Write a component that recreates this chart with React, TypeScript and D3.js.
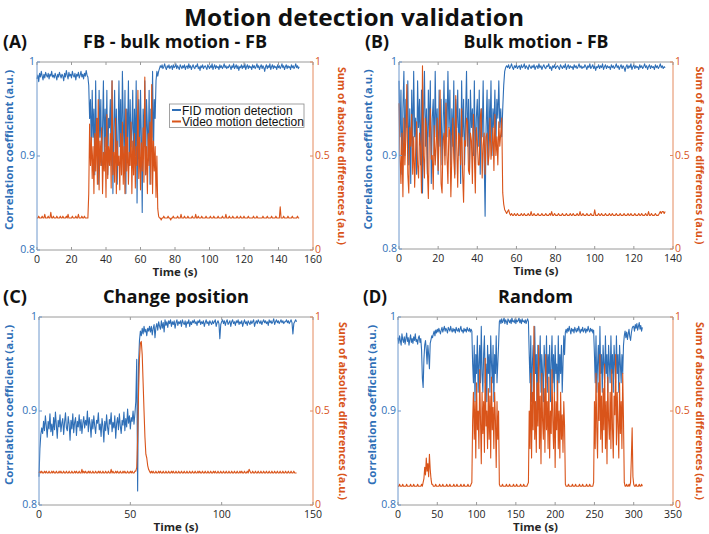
import React from 'react';
import * as d3 from 'd3';

const BLUE = '#2f6fb7';
const ORANGE = '#d9541a';

// ---------- Panel A: FB - bulk motion - FB (samples every 0.5 s, t = 0..152 s) ----------
const stepA = 0.5;
const fidA = [
  .982,.986,.979,.988,.984,.99,.985,.981,.987,.983,
  .989,.986,.984,.988,.982,.987,.985,.99,.984,.986,
  .983,.988,.985,.981,.987,.984,.989,.986,.983,.987,
  .985,.98,.988,.984,.991,.986,.982,.989,.985,.987,
  .983,.99,.986,.984,.988,.981,.987,.985,.989,.983,
  .986,.99,.984,.987,.982,.988,.985,.991,.986,.984,
  .975,.94,.96,.9,.97,.92,.95,.88,.98,.91,
  .94,.87,.97,.92,.96,.89,.93,.98,.9,.95,
  .91,.97,.88,.94,.93,.96,.89,.98,.86,.93,
  .97,.9,.95,.87,.92,.98,.91,.96,.88,.99,
  .94,.9,.97,.86,.95,.92,.98,.89,.96,.91,
  .93,.97,.88,.95,.9,.98,.85,.94,.96,.89,
  .97,.92,.84,.95,.91,.98,.88,.96,.93,.9,
  .97,.87,.95,.92,.99,.9,.96,.94,.98,.99,
  .985,.99,.993,.996,.994,.997,.993,.995,.998,.994,
  .992,.996,.994,.997,.993,.995,.996,.992,.997,.994,
  .995,.998,.993,.996,.994,.992,.997,.995,.993,.996,
  .994,.997,.992,.995,.996,.993,.998,.994,.996,.992,
  .995,.997,.994,.993,.996,.995,.998,.993,.995,.991,
  .996,.994,.997,.993,.995,.996,.994,.992,.997,.995,
  .993,.996,.994,.998,.992,.995,.997,.993,.996,.994,
  .995,.992,.997,.994,.996,.993,.995,.998,.994,.996,
  .993,.995,.994,.997,.995,.992,.996,.994,.998,.993,
  .995,.997,.993,.996,.991,.995,.994,.997,.993,.996,
  .994,.998,.992,.995,.997,.993,.996,.994,.995,.992,
  .997,.994,.996,.993,.995,.998,.994,.996,.992,.995,
  .997,.993,.996,.994,.99,.995,.997,.993,.996,.994,
  .998,.992,.995,.997,.993,.996,.994,.995,.992,.997,
  .994,.996,.993,.995,.998,.994,.996,.992,.995,.997,
  .993,.996,.994,.995,.992,.997,.994,.996,.993,.995,
  .998,.994,.996,.993,.995,
];
const vidA = [
  .17,.17,.18,.17,.17,.17,.18,.17,.17,.19,
  .17,.17,.17,.18,.17,.17,.2,.17,.17,.18,
  .17,.17,.17,.18,.17,.17,.17,.18,.17,.17,
  .18,.17,.17,.17,.18,.17,.19,.17,.17,.17,
  .17,.18,.17,.17,.17,.18,.17,.17,.19,.17,
  .17,.17,.18,.17,.17,.18,.17,.17,.17,.17,
  .3,.67,.45,.6,.38,.55,.3,.62,.42,.7,
  .35,.8,.32,.58,.45,.65,.3,.52,.42,.6,
  .28,.72,.38,.55,.45,.62,.33,.9,.4,.52,
  .36,.7,.3,.58,.45,.5,.32,.62,.4,.68,
  .35,.55,.3,.75,.42,.6,.35,.52,.45,.68,
  .3,.58,.4,.62,.33,.55,.45,.85,.38,.6,
  .32,.57,.42,.65,.36,.92,.4,.55,.3,.62,
  .45,.68,.35,.88,.3,.58,.42,.55,.28,.5,
  .22,.18,.17,.17,.16,.17,.17,.18,.17,.17,
  .17,.17,.18,.17,.17,.16,.17,.17,.18,.17,
  .17,.17,.17,.18,.17,.17,.17,.19,.17,.17,
  .17,.18,.17,.17,.17,.18,.17,.17,.17,.17,
  .18,.17,.17,.17,.19,.17,.17,.18,.17,.17,
  .17,.18,.17,.17,.17,.17,.18,.17,.17,.17,
  .17,.18,.17,.17,.17,.18,.17,.17,.17,.17,
  .18,.17,.17,.17,.17,.18,.17,.17,.17,.19,
  .17,.17,.17,.18,.17,.17,.17,.18,.17,.17,
  .17,.17,.18,.17,.17,.17,.18,.17,.17,.17,
  .18,.17,.17,.17,.17,.18,.17,.17,.17,.17,
  .17,.18,.17,.17,.17,.18,.17,.17,.17,.17,
  .17,.17,.18,.17,.17,.17,.17,.18,.17,.17,
  .17,.17,.18,.17,.17,.17,.17,.18,.17,.17,
  .17,.17,.23,.17,.17,.17,.18,.17,.17,.17,
  .17,.18,.17,.17,.17,.17,.18,.17,.17,.17,
  .17,.17,.18,.17,.17,
];

// ---------- Panel B: Bulk motion - FB (samples every 0.5 s, t = 0..136 s) ----------
const stepB = 0.5;
const fidB = [
  .98,.92,.97,.88,.95,.99,.9,.96,.93,.98,
  .89,.95,.87,.97,.91,.99,.92,.94,.88,.98,
  .93,.96,.89,.97,.86,.94,.99,.91,.95,.88,
  .97,.92,.98,.87,.94,.96,.9,.99,.92,.95,
  .88,.97,.91,.96,.89,.93,.98,.9,.96,.92,
  .99,.93,.97,.89,.95,.91,.98,.88,.96,.93,
  .97,.9,.95,.87,.98,.92,.96,.89,.94,.99,
  .91,.96,.88,.97,.93,.95,.9,.98,.89,.94,
  .96,.91,.97,.88,.95,.92,.98,.9,.835,.93,
  .97,.89,.96,.92,.98,.9,.95,.93,.97,.91,
  .96,.94,.98,.93,.95,.92,
  .95,.975,.99,.994,.996,.994,.997,.993,.995,.998,
  .994,.992,.996,.994,.997,.993,.995,.996,.992,.997,
  .994,.995,.998,.993,.996,.994,.992,.997,.995,.993,
  .996,.994,.997,.992,.995,.996,.993,.998,.994,.996,
  .992,.995,.997,.994,.993,.996,.995,.998,.993,.995,
  .991,.996,.994,.997,.993,.995,.996,.994,.992,.997,
  .995,.993,.996,.994,.998,.992,.995,.997,.993,.996,
  .994,.995,.992,.997,.994,.996,.993,.995,.998,.994,
  .996,.993,.995,.994,.997,.995,.992,.996,.994,.998,
  .993,.995,.997,.993,.996,.991,.995,.994,.997,.993,
  .996,.994,.998,.992,.995,.997,.993,.996,.994,.995,
  .992,.997,.994,.996,.993,.995,.998,.994,.996,.992,
  .995,.997,.993,.996,.994,.99,.995,.997,.993,.996,
  .994,.998,.992,.995,.997,.993,.996,.994,.995,.992,
  .997,.994,.996,.993,.995,.998,.994,.996,.992,.995,
  .997,.993,.996,.994,.995,.992,.997,.994,.996,.993,
  .995,.998,.994,.996,.993,.995,.994,
];
const vidB = [
  .78,.5,.35,.62,.28,.7,.45,.6,.88,.4,
  .3,.65,.55,.72,.4,.6,.33,.52,.68,.45,
  .38,.62,.55,.3,.98,.5,.38,.7,.65,.42,
  .27,.6,.75,.48,.5,.32,.66,.45,.55,.7,
  .42,.6,.85,.35,.3,.58,.62,.45,.78,.5,
  .35,.65,.62,.28,.5,.7,.48,.38,.82,.55,
  .33,.62,.6,.45,.75,.4,.25,.58,.55,.7,
  .68,.42,.4,.62,.58,.35,.72,.5,.3,.65,
  .58,.45,.45,.7,.75,.38,.55,.62,.4,.6,
  .62,.45,.5,.7,.48,.55,.65,.42,.72,.5,
  .6,.45,.68,.55,.62,.7,
  .3,.24,.21,.2,.19,.2,.21,.19,.18,.19,
  .18,.18,.19,.18,.18,.19,.18,.18,.18,.19,
  .18,.18,.19,.18,.18,.18,.19,.18,.18,.2,
  .18,.18,.19,.18,.18,.18,.19,.18,.18,.18,
  .19,.18,.18,.18,.19,.18,.18,.18,.19,.18,
  .2,.18,.18,.19,.18,.18,.18,.19,.18,.18,
  .18,.19,.18,.18,.18,.19,.18,.18,.18,.19,
  .18,.18,.19,.18,.18,.18,.19,.18,.18,.2,
  .18,.18,.19,.18,.18,.18,.19,.18,.18,.18,
  .19,.18,.18,.18,.21,.18,.18,.18,.19,.18,
  .18,.19,.18,.18,.18,.19,.18,.18,.18,.19,
  .18,.18,.19,.18,.18,.18,.19,.18,.18,.18,
  .19,.18,.18,.18,.19,.18,.18,.18,.19,.18,
  .18,.19,.18,.18,.18,.19,.18,.18,.18,.19,
  .18,.18,.19,.18,.18,.18,.19,.18,.18,.2,
  .18,.18,.19,.18,.18,.18,.19,.18,.18,.18,
  .19,.2,.19,.2,.2,.19,.2,
];

// ---------- Panel C: Change position (samples every 0.5 s, t = 0..141 s) ----------
const stepC = 0.5;
const fidC = [
  .83,.86,.875,.882,.876,.889,.879,.895,.884,.872,
  .889,.881,.897,.878,.886,.874,.893,.88,.899,.885,
  .871,.89,.883,.896,.878,.887,.892,.875,.888,.898,
  .882,.879,.894,.886,.869,.89,.881,.897,.877,.888,
  .893,.874,.889,.883,.896,.879,.891,.876,.887,.894,
  .882,.89,.885,.9,.878,.893,.886,.872,.891,.881,
  .895,.884,.876,.89,.887,.898,.88,.886,.873,.892,
  .884,.867,.889,.879,.896,.883,.875,.891,.886,.898,
  .878,.888,.882,.895,.871,.887,.893,.88,.897,.884,
  .876,.89,.885,.899,.879,.892,.883,.902,.887,.895,
  .881,.893,.889,.9,.886,.897,
  .91,.955,.815,.95,.975,.985,.98,.988,.982,.99,.984,.987,.98,.988,.985,.99,
  .984,.99,.981,.988,.992,.978,.989,.993,.986,.995,
  .99,.987,.996,.988,.994,.984,.997,.991,.995,.989,
  .996,.993,.997,.99,.995,.992,.996,.988,.994,.997,
  .991,.995,.993,.996,.99,.997,.994,.992,.996,.989,
  .995,.993,.997,.99,.995,.992,.996,.994,.997,.993,
  .995,.991,.996,.994,.997,.992,.995,.993,.996,.99,
  .994,.997,.993,.995,.991,.996,.994,.992,.996,.993,
  .995,.997,.99,.994,.996,.993,.977,.992,.995,.997,
  .993,.996,.991,.995,.997,.992,.994,.996,.99,.995,
  .997,.993,.995,.991,.996,.994,.997,.992,.995,.993,
  .996,.99,.994,.997,.993,.995,.991,.996,.994,.992,
  .996,.993,.995,.997,.99,.994,.996,.993,.997,.995,
  .993,.996,.992,.995,.997,.994,.996,.993,.995,.991,
  .997,.994,.996,.993,.995,.998,.992,.995,.997,.994,
  .996,.993,.995,.997,.994,.996,.993,.995,.995,.997,
  .994,.996,.993,.995,.997,.994,.982,.993,.995,.997,
  .995,
];
const vidC = [
  .17,.18,.17,.18,.17,.17,.18,.17,.18,.17,
  .17,.18,.17,.17,.18,.17,.18,.17,.17,.18,
  .17,.17,.18,.17,.18,.17,.17,.18,.17,.17,
  .18,.17,.17,.18,.17,.17,.18,.17,.17,.18,
  .17,.18,.17,.17,.18,.17,.17,.19,.17,.18,
  .17,.18,.17,.17,.18,.17,.18,.17,.17,.18,
  .17,.17,.18,.17,.17,.18,.17,.18,.17,.17,
  .18,.17,.17,.18,.17,.17,.18,.17,.17,.19,
  .17,.18,.17,.17,.18,.17,.18,.17,.17,.18,
  .17,.17,.18,.17,.18,.17,.17,.18,.17,.17,
  .18,.17,.18,.17,.17,.18,
  .18,.2,.35,.6,.78,.86,.87,.8,.65,.5,.36,.27,.25,.21,.19,.18,
  .17,.18,.17,.18,.17,.17,.18,.17,.17,.18,
  .17,.18,.17,.17,.18,.17,.17,.18,.17,.17,
  .18,.17,.17,.18,.17,.18,.17,.17,.18,.17,
  .17,.18,.17,.17,.18,.17,.17,.18,.17,.17,
  .18,.17,.17,.18,.17,.17,.18,.17,.17,.18,
  .17,.17,.18,.17,.18,.17,.17,.18,.17,.17,
  .18,.17,.17,.18,.17,.17,.18,.17,.17,.18,
  .17,.18,.17,.17,.18,.17,.17,.18,.17,.17,
  .18,.17,.17,.18,.17,.17,.18,.17,.17,.18,
  .17,.17,.18,.17,.17,.18,.17,.17,.18,.17,
  .18,.17,.17,.18,.17,.17,.18,.17,.19,.18,
  .17,.17,.18,.17,.17,.18,.17,.17,.18,.17,
  .17,.18,.17,.17,.18,.17,.17,.18,.17,.17,
  .18,.17,.17,.18,.17,.17,.18,.17,.17,.18,
  .17,.17,.18,.17,.17,.18,.17,.17,.18,.17,
  .17,.18,.17,.17,.18,.17,.17,.18,.17,.17,
  .17,
];

// ---------- Panel D: Random (samples every 1 s, t = 0..311 s) ----------
const stepD = 1;
const fidD = [
  .978,.972,.98,.975,.97,.982,.976,.973,.979,.971,.977,.983,.974,.978,.97,.976,.981,.973,.977,.972,.979,.975,.982,.974,.976,.971,.978,.98,.973,.977,
  .965,.935,.925,.955,.97,
  .975,.965,.95,.97,.96,.945,.972,.976,.98,.978,
  .982,.985,.98,.986,.983,.987,.984,.988,.985,.982,.986,.989,.984,.987,.99,.985,.988,.986,.983,.989,.987,.985,.99,.986,.984,.988,.985,.987,.983,.989,.986,.985,.988,.984,.987,.99,.985,.986,.983,.988,.985,.987,.984,.989,.986,.985,.988,.984,.987,.985,
  .95,.93,.97,.91,.96,.94,.98,.92,.95,.97,.93,.99,.94,.92,.96,.98,.93,.95,.91,.97,.94,.96,.92,.98,.95,.93,.97,.91,.96,.94,.98,.93,.95,.97,
  .995,.997,.993,.998,.994,.996,.999,.993,.997,.995,.992,.998,.996,.994,.997,.993,.999,.995,.996,.994,.998,.993,.997,.995,.996,.999,.994,.997,.993,.998,.995,.996,.994,.997,.993,.996,.998,.995,
  .96,.93,.98,.91,.95,.97,.92,.99,.94,.96,.9,.97,.93,.95,.98,.92,.96,.94,.91,.97,.95,.93,.98,.92,.96,.94,.97,.91,.95,.98,.93,.96,.92,.97,.94,.95,.91,.98,.93,.96,.94,.97,.92,.95,.98,.96,
  .984,.987,.983,.988,.985,.99,.986,.982,.988,.985,.987,.983,.989,.986,.984,.988,.985,.99,.986,.983,.987,.985,.989,.984,.986,.988,.983,.987,.985,.99,.986,.984,.988,.985,.987,.983,.986,
  .96,.93,.98,.92,.95,.97,.93,.99,.94,.96,.92,.97,.95,.93,.98,.94,.96,.92,.97,.95,.93,.98,.94,.96,.92,.97,.95,.93,.98,.94,.96,.92,.97,.95,.93,.96,.94,.97,
  .98,.985,.978,.984,.976,.982,.987,.979,.975,.983,.988,.99,
  .99,.985,.992,.988,.993,.986,.99,.994,.987,.991,.985,.989,
];
const vidD = [
  .1,.1,.11,.1,.1,.1,.11,.1,.1,.1,.1,.11,.1,.1,.1,.1,.11,.1,.1,.1,.11,.1,.1,.1,.1,.11,.1,.1,.1,.1,.11,.1,.12,
  .14,.2,.16,.25,.18,.22,.15,.27,.19,.14,.11,
  .11,.1,.1,.1,.11,.1,.1,.1,.1,.11,.1,.1,.1,.11,.1,.1,.1,.1,.11,.1,.1,.1,.11,.1,.1,.1,.1,.11,.1,.1,.1,.11,.1,.1,.1,.1,.11,.1,.1,.1,.11,.1,.1,.1,.1,.11,.1,.1,.1,.11,.12,
  .45,.6,.35,.55,.25,.65,.4,.5,.3,.72,.45,.22,.6,.38,.55,.28,.78,.42,.5,.3,.62,.35,.58,.25,.68,.4,.52,.3,.6,.45,.2,.55,.35,.5,
  .11,.1,.1,.1,.11,.1,.1,.1,.1,.11,.1,.1,.1,.11,.1,.1,.1,.1,.11,.1,.1,.1,.11,.1,.1,.1,.1,.11,.1,.1,.1,.11,.1,.1,.1,.1,.11,.12,
  .5,.3,.7,.25,.6,.4,.95,.35,.55,.28,.65,.42,.85,.3,.58,.22,.7,.45,.35,.62,.28,.8,.4,.55,.3,.68,.25,.5,.38,.72,.45,.3,.6,.2,.55,.4,.66,.3,.5,.25,.6,.35,.48,.28,.55,.42,
  .11,.1,.1,.1,.11,.1,.1,.1,.1,.11,.1,.1,.1,.11,.1,.1,.1,.1,.11,.1,.1,.1,.11,.1,.1,.1,.1,.11,.1,.1,.1,.11,.1,.1,.1,.1,.12,
  .55,.3,.7,.4,.25,.65,.45,.8,.35,.58,.28,.62,.4,.75,.3,.55,.22,.68,.45,.35,.6,.3,.72,.4,.25,.58,.48,.8,.32,.6,.42,.25,.65,.38,.55,.3,.7,.45,
  .12,.1,.1,.11,.1,.1,.11,.1,.12,
  .25,.41,.15,
  .11,.1,.1,.11,.1,.1,.1,.11,.1,.1,.11,.1,
];

// ---------- Axes / labels ----------
const xTicksA = [0, 20, 40, 60, 80, 100, 120, 140, 160];
const xTicksB = [0, 20, 40, 60, 80, 100, 120, 140];
const xTicksC = [0, 50, 100, 150];
const xTicksD = [0, 50, 100, 150, 200, 250, 300, 350];
const leftTicks = [0.8, 0.9, 1];
const rightTicks = [0, 0.5, 1];
const legendLabels = ['FID motion detection', 'Video motion detection'];
const mainTitle = 'Motion detection validation';
const panelTitles = ['FB - bulk motion - FB', 'Bulk motion - FB', 'Change position', 'Random'];
const panelLetters = ['(A)', '(B)', '(C)', '(D)'];
const leftLabel = 'Correlation coefficient (a.u.)';
const rightLabel = 'Sum of absolute differences (a.u.)';
const xLabel = 'Time (s)';

const FONT = '"Open Sans", "DejaVu Sans", sans-serif';

type PanelProps = {
  x0: number; x1: number; y0: number; y1: number;
  xMax: number; xTicks: number[]; step: number;
  fid: number[]; vid: number[];
  letter: string; letterX: number;
  title: string; titleLen: number;
  leftLabelX: number; rightLabelX: number;
  legend?: boolean;
};

function Panel(p: PanelProps) {
  const { x0, x1, y0, y1 } = p;
  const x = d3.scaleLinear().domain([0, p.xMax]).range([x0, x1]);
  const yL = d3.scaleLinear().domain([0.8, 1]).range([y1, y0]);
  const yR = d3.scaleLinear().domain([0, 1]).range([y1, y0]);
  const lineL = d3.line<number>().x((_, i) => x(i * p.step)).y((d) => yL(d));
  const lineR = d3.line<number>().x((_, i) => x(i * p.step)).y((d) => yR(d));
  const cx = (x0 + x1) / 2;
  const cy = (y0 + y1) / 2;
  const axGray = '#9a9a9a';
  const axBlue = '#6f98cc';
  const axOrange = '#e48a5f';
  return (
    <g>
      <text x={p.letterX} y={y0 - 14.5} fontFamily={FONT} fontWeight="bold" fontSize={17} fill="#111" textLength={24} lengthAdjust="spacingAndGlyphs">{p.letter}</text>
      <text x={cx} y={y0 - 14.5} textAnchor="middle" fontFamily={FONT} fontWeight="bold" fontSize={17} fill="#111" textLength={p.titleLen} lengthAdjust="spacingAndGlyphs">{p.title}</text>
      <path d={lineL(p.fid) || ''} fill="none" stroke={BLUE} strokeWidth={1.1} strokeLinejoin="round" />
      <path d={lineR(p.vid) || ''} fill="none" stroke={ORANGE} strokeWidth={1.1} strokeLinejoin="round" />
      <line x1={x0} x2={x1} y1={y0} y2={y0} stroke={axGray} strokeWidth={1} />
      <line x1={x0} x2={x1} y1={y1} y2={y1} stroke={axGray} strokeWidth={1} />
      <line x1={x0} x2={x0} y1={y0} y2={y1} stroke={axBlue} strokeWidth={1} />
      <line x1={x1} x2={x1} y1={y0} y2={y1} stroke={axOrange} strokeWidth={1} />
      {p.xTicks.map((t) => (
        <g key={'x' + t}>
          <line x1={x(t)} x2={x(t)} y1={y1} y2={y1 - 3} stroke={axGray} />
          <line x1={x(t)} x2={x(t)} y1={y0} y2={y0 + 3} stroke={axGray} />
          <text x={x(t)} y={y1 + 12.5} textAnchor="middle" fontFamily={FONT} fontSize={10.5} fill="#262626">{t}</text>
        </g>
      ))}
      {leftTicks.map((t) => (
        <g key={'l' + t}>
          <line x1={x0} x2={x0 + 3} y1={yL(t)} y2={yL(t)} stroke={axBlue} />
          <text x={x0 - 2} y={yL(t)} dy="0.3em" textAnchor="end" fontFamily={FONT} fontSize={10.5} fill={BLUE}>{String(t)}</text>
        </g>
      ))}
      {rightTicks.map((t) => (
        <g key={'r' + t}>
          <line x1={x1} x2={x1 - 3} y1={yR(t)} y2={yR(t)} stroke={axOrange} />
          <text x={x1 + 2} y={yR(t)} dy="0.3em" textAnchor="start" fontFamily={FONT} fontSize={10.5} fill={ORANGE}>{String(t)}</text>
        </g>
      ))}
      <text x={cx} y={y1 + 26} textAnchor="middle" fontFamily={FONT} fontWeight="bold" fontSize={11} fill="#262626" textLength={45} lengthAdjust="spacingAndGlyphs">{xLabel}</text>
      <text transform={`translate(${p.leftLabelX},${cy - 6}) rotate(-90)`} textAnchor="middle" fontFamily={FONT} fontWeight="bold" fontSize={11} fill={BLUE} textLength={160} lengthAdjust="spacingAndGlyphs">{leftLabel}</text>
      <text transform={`translate(${p.rightLabelX},${cy}) rotate(90)`} textAnchor="middle" fontFamily={FONT} fontWeight="bold" fontSize={11} fill={ORANGE} textLength={178} lengthAdjust="spacingAndGlyphs">{rightLabel}</text>
      {p.legend && (
        <g>
          <rect x={169.5} y={104} width={134.5} height={23.5} fill="#fff" stroke="#8a8a8a" strokeWidth={0.8} />
          <line x1={172} x2={181} y1={110} y2={110} stroke={BLUE} strokeWidth={2} />
          <line x1={172} x2={181} y1={121.5} y2={121.5} stroke={ORANGE} strokeWidth={2} />
          <text x={182} y={114.5} fontFamily='"Liberation Sans", Arial, sans-serif' fontSize={12} fill="#111">{legendLabels[0]}</text>
          <text x={182} y={126} fontFamily='"Liberation Sans", Arial, sans-serif' fontSize={12} fill="#111">{legendLabels[1]}</text>
        </g>
      )}
    </g>
  );
}

export default function App() {
  return (
    <svg width={709} height={534} style={{ position: 'absolute', left: 0, top: 0, background: '#fff' }}>
      <rect x={0} y={0} width={709} height={534} fill="#fff" />
      <text x={354} y={26} textAnchor="middle" fontFamily={FONT} fontWeight="bold" fontSize={24} fill="#111" textLength={340} lengthAdjust="spacingAndGlyphs">{mainTitle}</text>
      <Panel x0={37} x1={313} y0={62} y1={250} xMax={160} xTicks={xTicksA} step={stepA} fid={fidA} vid={vidA}
        letter={panelLetters[0]} letterX={3} title={panelTitles[0]} titleLen={184} leftLabelX={13} rightLabelX={338} legend />
      <Panel x0={399} x1={673} y0={62} y1={249} xMax={140} xTicks={xTicksB} step={stepB} fid={fidB} vid={vidB}
        letter={panelLetters[1]} letterX={365} title={panelTitles[1]} titleLen={145} leftLabelX={372} rightLabelX={696} />
      <Panel x0={39} x1={313} y0={317} y1={505} xMax={150} xTicks={xTicksC} step={stepC} fid={fidC} vid={vidC}
        letter={panelLetters[2]} letterX={3} title={panelTitles[2]} titleLen={146} leftLabelX={13} rightLabelX={339} />
      <Panel x0={398} x1={673} y0={317} y1={505} xMax={350} xTicks={xTicksD} step={stepD} fid={fidD} vid={vidD}
        letter={panelLetters[3]} letterX={363} title={panelTitles[3]} titleLen={75} leftLabelX={376} rightLabelX={696} />
    </svg>
  );
}
